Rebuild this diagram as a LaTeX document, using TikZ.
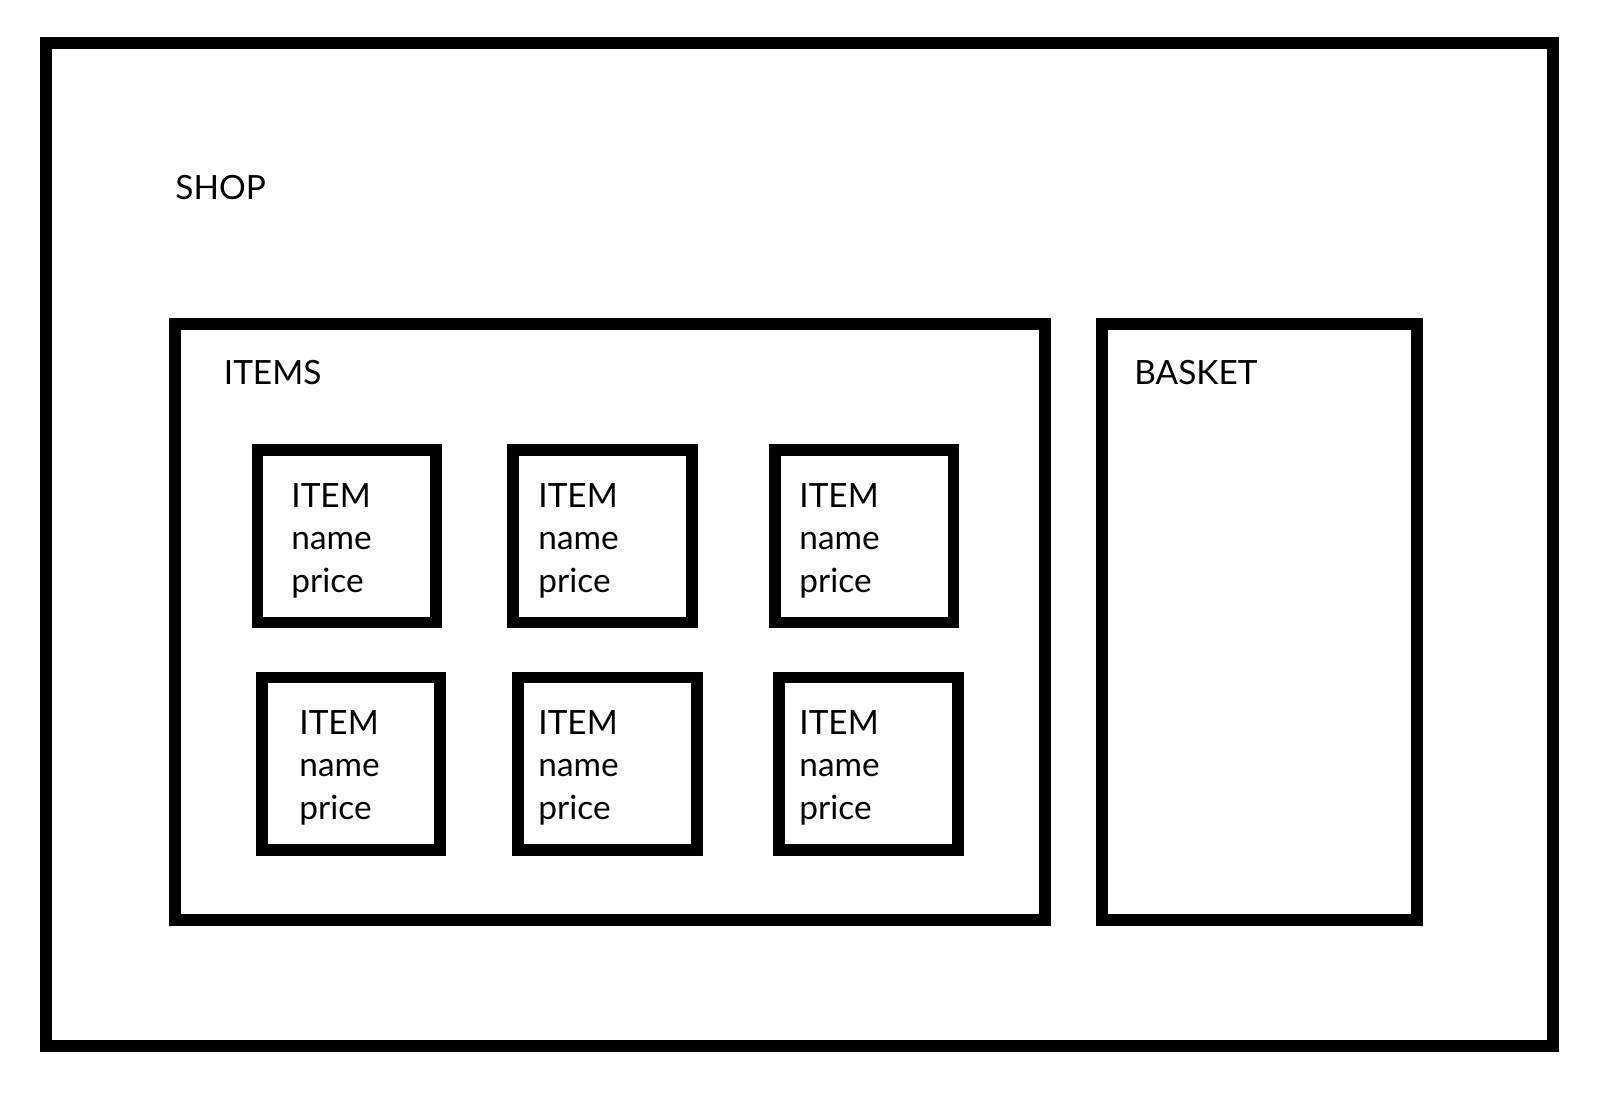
\documentclass[tikz,border=0pt]{standalone}
\usepackage{fontspec}
\setmainfont{Lato}

\begin{document}
\begin{tikzpicture}[x=0.5pt,y=0.5pt]
  \useasboundingbox (0,0) rectangle (1602,1098);

  %stili
  \tikzset{frame/.style={draw, black, line width=6pt},
           card/.style={draw, black, line width=5.85pt},
           lbl/.style={anchor=base west, inner sep=0pt, font=\fontsize{16.7}{21.35}\selectfont},
           cardtext/.style={lbl, align=left}} %% base = last line

  % def shop
  \coordinate (shopA) at (46,1055);
  \coordinate (shopB) at (1553,52);
  % def items and basket
  \coordinate (itemsA) at (175,774);
  \coordinate (itemsB) at (1045,178);
  \coordinate (basketA) at (1102,774);
  \coordinate (basketB) at (1417,178);
  % def cards
  \coordinate (c1A) at (257.5,648);
  \coordinate (c1B) at (436,475.5);
  \coordinate (c2A) at (513.3,648);
  \coordinate (c2B) at (692,475.5);
  \coordinate (c3A) at (775,648);
  \coordinate (c3B) at (953.5,475.5);
  \coordinate (c4A) at (262,420.5);
  \coordinate (c4B) at (440,248);
  \coordinate (c5A) at (518,420.5);
  \coordinate (c5B) at (696.7,248);
  \coordinate (c6A) at (779,420.5);
  \coordinate (c6B) at (958,248);

  %riquadri
  \draw[frame] (shopA) rectangle (shopB);
  \draw[frame] (itemsA) rectangle (itemsB);
  \draw[frame] (basketA) rectangle (basketB);

  \draw[card] (c1A) rectangle (c1B);
  \draw[card] (c2A) rectangle (c2B);
  \draw[card] (c3A) rectangle (c3B);
  \draw[card] (c4A) rectangle (c4B);
  \draw[card] (c5A) rectangle (c5B);
  \draw[card] (c6A) rectangle (c6B);

  %etichette
  \node[lbl] (shop) at (175,898) {SHOP};
  \node[lbl] (items) at (223.5,713) {ITEMS};
  \node[lbl] (basket) at (1134,713) {BASKET};

  \node[cardtext] (item1) at (291,505.5) {ITEM\\name\\price};
  \node[cardtext] (item2) at (538,505.5) {ITEM\\name\\price};
  \node[cardtext] (item3) at (799,505.5) {ITEM\\name\\price};
  \node[cardtext] (item4) at (299,278.5) {ITEM\\name\\price};
  \node[cardtext] (item5) at (538,278.5) {ITEM\\name\\price};
  \node[cardtext] (item6) at (799,278.5) {ITEM\\name\\price};

\end{tikzpicture}
\end{document}
